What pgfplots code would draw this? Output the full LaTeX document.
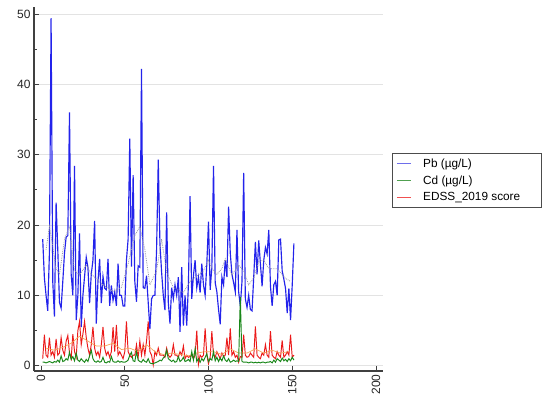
\documentclass[border=0pt]{standalone}
\usepackage{fontspec}
\setmainfont{Liberation Sans}
\usepackage{pgfplots}
\usepackage{pgfplotstable}
\pgfplotsset{compat=1.18}
\definecolor{pbblue}{RGB}{35,35,235}
\definecolor{cdgreen}{RGB}{25,135,25}
\definecolor{edred}{RGB}{235,25,25}
\definecolor{maorange}{RGB}{245,165,90}
\definecolor{magray}{RGB}{150,150,165}
\definecolor{lgblue}{RGB}{110,110,235}
\definecolor{lggreen}{RGB}{80,160,80}
\definecolor{lgred}{RGB}{240,80,80}

\pgfplotstableread{
x pb cd edss
1 18.0 0.5 1.0
2 12.5 0.5 4.4
3 10.0 0.4 1.5
4 7.8 0.5 1.2
5 16.0 0.6 4.0
6 49.4 0.5 1.5
7 12.0 0.4 2.0
8 7.0 0.6 1.2
9 23.2 0.5 3.8
10 16.5 0.8 1.5
11 9.0 0.5 1.8
12 8.2 1.4 4.0
13 12.0 0.6 2.2
14 16.0 0.7 1.5
15 18.3 1.0 3.5
16 18.5 0.8 4.3
17 36.0 1.9 1.8
18 13.0 0.9 1.0
19 10.0 1.3 4.5
20 28.4 0.7 2.0
21 6.5 1.8 1.2
22 10.0 0.8 5.0
23 18.8 0.6 6.3
24 5.5 1.0 3.0
25 10.0 0.7 4.5
26 12.7 0.5 6.3
27 15.4 0.9 4.0
28 14.0 0.6 2.5
29 8.9 1.4 1.5
30 13.0 2.2 3.0
31 15.0 1.0 5.5
32 20.6 0.6 2.5
33 6.0 0.5 1.5
34 12.0 0.7 2.0
35 15.2 0.5 1.2
36 8.9 0.6 3.0
37 12.7 1.2 5.5
38 11.0 0.5 2.5
39 10.8 0.4 1.5
40 15.2 0.6 2.0
41 8.5 0.5 1.2
42 11.4 1.3 2.0
43 9.3 0.6 5.5
44 10.5 0.5 2.0
45 8.5 0.5 5.8
46 14.5 0.7 1.5
47 10.0 0.5 2.0
48 10.0 0.6 1.5
49 8.5 0.5 1.0
50 8.5 0.5 2.0
51 15.0 0.6 6.3
52 18.0 0.8 2.0
53 32.3 1.5 1.5
54 14.1 1.9 1.2
55 27.1 0.7 1.5
56 12.0 0.6 1.5
57 9.1 2.0 3.0
58 14.2 0.8 1.2
59 14.0 0.6 3.5
60 42.2 0.5 1.5
61 11.1 0.9 3.0
62 11.0 0.6 1.5
63 12.8 0.5 3.5
64 9.0 1.0 6.3
65 5.2 0.4 2.0
66 9.5 0.3 1.5
67 10.0 0.3 0.1
68 10.0 0.4 2.0
69 16.5 0.5 1.5
70 29.3 0.6 2.5
71 17.4 0.8 1.5
72 13.3 0.7 1.5
73 10.0 1.1 1.5
74 7.9 1.3 1.2
75 21.8 2.2 2.5
76 9.0 1.0 1.5
77 6.0 0.8 1.2
78 11.1 0.6 1.5
79 9.5 0.8 3.0
80 11.5 0.5 1.5
81 10.0 0.6 1.5
82 12.6 1.3 1.2
83 4.8 0.6 2.0
84 14.0 0.8 1.5
85 5.7 1.2 2.8
86 10.0 0.6 1.0
87 5.7 0.7 1.5
88 11.5 0.9 1.2
89 24.1 0.6 1.3
90 9.5 2.0 1.5
91 12.8 0.8 1.0
92 15.0 2.4 1.5
93 11.1 0.6 5.0
94 12.6 1.0 0.2
95 10.4 0.5 1.5
96 14.5 1.0 1.2
97 11.5 0.7 1.5
98 10.0 1.2 5.3
99 14.5 1.7 1.5
100 20.5 0.6 0.3
101 10.8 1.0 1.2
102 14.0 0.8 4.9
103 28.4 2.0 1.5
104 11.8 0.7 1.2
105 10.5 1.2 2.0
106 8.0 0.6 1.5
107 5.9 1.1 1.0
108 12.6 0.7 1.8
109 11.5 1.4 1.3
110 15.0 0.8 1.5
111 12.6 0.6 4.0
112 22.6 1.0 1.5
113 16.0 0.5 5.3
114 13.0 0.6 1.5
115 11.8 0.8 2.0
116 10.5 0.6 1.2
117 19.3 0.7 1.5
118 10.5 0.6 0.5
119 8.5 9.8 1.3
120 12.0 0.6 1.2
121 27.4 0.5 4.4
122 9.5 0.5 1.5
123 8.3 0.5 1.2
124 10.0 0.4 1.3
125 8.0 0.5 1.8
126 7.8 0.5 1.5
127 12.6 0.4 1.2
128 17.6 0.5 5.6
129 13.0 0.4 1.5
130 17.8 0.5 1.2
131 14.5 0.4 1.0
132 11.3 0.5 1.8
133 15.0 0.5 1.5
134 16.8 0.4 3.0
135 15.9 0.5 1.5
136 19.3 0.5 1.2
137 11.3 0.6 4.9
138 8.5 0.4 1.5
139 11.5 0.8 1.2
140 12.0 0.5 1.0
141 10.0 1.0 2.0
142 17.9 0.8 1.5
143 18.0 0.6 1.2
144 13.5 1.1 3.6
145 12.3 0.7 1.2
146 11.0 0.9 1.5
147 7.5 0.6 2.0
148 11.0 1.0 1.5
149 6.5 0.7 4.4
150 11.5 1.2 1.2
151 17.4 0.8 1.5
}\datatable

\pgfplotstableread{
x pbma
3 16.5
5 19.8
7 17.0
9 13.8
11 13.0
14 18.0
17 19.8
20 13.5
23 12.9
27 14.3
30 13.0
33 12.4
37 11.5
40 11.0
43 10.6
48 11.1
52 14.5
56 18.5
59 19.8
62 16.5
65 11.5
69 13.5
72 18.0
75 13.3
79 11.1
82 10.8
85 10.4
89 12.0
94 12.9
97 13.5
100 15.0
102 13.8
105 13.0
108 13.8
110 15.2
114 12.9
118 14.3
121 13.5
124 11.5
127 12.5
130 14.8
133 15.0
136 13.8
141 13.8
146 12.4
149 12.0
}\pbma

\pgfplotstableread{
x edma
3 2.5
8 2.2
13 2.6
18 3.2
23 4.2
28 3.5
33 2.8
38 2.8
43 3.2
48 2.3
53 2.5
58 2.0
63 3.0
68 2.0
73 1.6
78 1.8
83 1.6
88 1.4
93 1.8
98 2.0
103 2.0
108 1.6
113 2.4
118 1.8
123 1.8
128 2.4
133 1.8
138 2.2
143 1.8
148 2.0
}\edma

\begin{document}
\begin{tikzpicture}
\useasboundingbox (-34bp,-36bp) rectangle (516bp,371bp);
\begin{axis}[
  at={(0,0)}, anchor=south west,
  scale only axis,
  width=349bp, height=364bp,
  xmin=-4.2, xmax=204.2,
  ymin=-0.75, ymax=51,
  axis x line*=bottom, axis y line*=left,
  axis line style={-, line width=1.1bp, black!75},
  xtick={0,50,100,150,200},
  ytick={0,10,20,30,40,50},
  minor y tick num=1,
  tick align=inside,
  major tick length=5bp, minor tick length=3bp,
  tick style={black!75, line width=0.8bp},
  ymajorgrids,
  major grid style={gray!22, line width=0.8bp},
  /pgf/number format/assume math mode=true,
  tick label style={font=\fontsize{12bp}{14bp}\selectfont, text=black!85},
  xticklabel style={rotate=90, anchor=east},
  legend style={
    at={(axis description cs:1.026,0.599)}, anchor=north west,
    draw=black!70, line width=0.6bp,
    font=\fontsize{11.8bp}{13bp}\selectfont,
    row sep=2.8bp, inner xsep=4bp, inner ysep=3.5bp,
  },
  legend cell align=left,
]
\addlegendimage{legend image code/.code={\draw[lgblue, line width=0.8bp] (0bp,0bp) -- (14bp,0bp);}}
\addlegendentry{\hspace*{10bp}\makebox[112bp][l]{Pb (µg/L)}}
\addlegendimage{legend image code/.code={\draw[lggreen, line width=0.8bp] (0bp,0bp) -- (14bp,0bp);}}
\addlegendentry{\hspace*{10bp}\makebox[112bp][l]{Cd (µg/L)}}
\addlegendimage{legend image code/.code={\draw[lgred, line width=0.8bp] (0bp,0bp) -- (14bp,0bp);}}
\addlegendentry{\hspace*{10bp}\makebox[112bp][l]{EDSS\_2019 score}}

\addplot[forget plot, pbblue, line width=1.15bp] table[x=x, y=pb] {\datatable};
\addplot[forget plot, magray, densely dotted, line width=0.8bp] table[x=x, y=pbma] {\pbma};
\addplot[forget plot, edred, line width=0.95bp] table[x=x, y=edss] {\datatable};
\addplot[forget plot, maorange, line width=0.7bp] table[x=x, y=edma] {\edma};
\addplot[forget plot, cdgreen, line width=0.95bp] table[x=x, y=cd] {\datatable};
\end{axis}
\end{tikzpicture}
\end{document}
